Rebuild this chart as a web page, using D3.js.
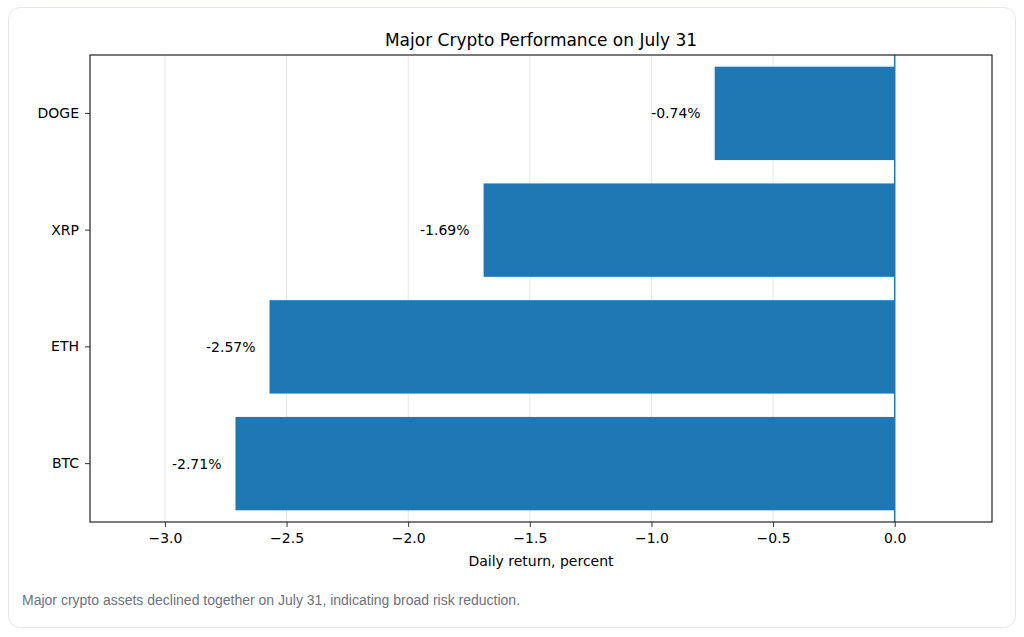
<!DOCTYPE html>
<html lang="en">
<meta charset="UTF-8">
<title>Major Crypto Performance on July 31</title>
<script src="https://d3js.org/d3.v7.min.js"></script>
<style>
body {margin:0; background:#fff;}
#card {position:absolute; left:8px; top:7px; width:1008px; height:621px; border:1px solid #e5e7eb; border-radius:12px; box-sizing:border-box;}
#caption {position:absolute; left:22px; top:592px; font-family:"Liberation Sans", Arial, sans-serif; font-size:14px; color:#6b7280;}
svg text {font-family:"DejaVu Sans", sans-serif;}
</style>
<body>
<div id="card"></div>
<svg id="chart" width="1024" height="637" style="position:absolute;left:0;top:0"></svg>
<div id="caption">Major crypto assets declined together on July 31, indicating broad risk reduction.</div>
<script>
// data, top bar first
var assets = ["DOGE", "XRP", "ETH", "BTC"];
var returns = [-0.74, -1.69, -2.57, -2.71];
var xTicks = [-3.0, -2.5, -2.0, -1.5, -1.0, -0.5, 0.0];

var margin = {top: 55, right: 32, bottom: 115, left: 90},
    width = 1024 - margin.left - margin.right,
    height = 637 - margin.top - margin.bottom;

var svg = d3.select("#chart")
  .append("g")
    .attr("transform", "translate(" + margin.left + "," + margin.top + ")");

var x = d3.scaleLinear().domain([-3.308, 0.4]).range([0, width]);
var y = d3.scaleBand().domain(assets).range([0, height]).paddingInner(0.2).paddingOuter(0.1);

// grid
svg.selectAll(".grid").data(xTicks).enter().append("line")
    .attr("x1", function(d) { return x(d); }).attr("x2", function(d) { return x(d); })
    .attr("y1", 0).attr("y2", height)
    .style("stroke", "#e6e6e6").style("stroke-width", 1);

// bars
svg.selectAll("rect.bar").data(assets).enter().append("rect")
    .attr("x", function(d, i) { return x(returns[i]); })
    .attr("y", function(d) { return y(d); })
    .attr("width", function(d, i) { return x(0) - x(returns[i]); })
    .attr("height", y.bandwidth())
    .style("fill", "#1f77b4");

// zero line
svg.append("line").attr("x1", x(0)).attr("x2", x(0)).attr("y1", 0).attr("y2", height)
    .style("stroke", "#1f77b4").style("stroke-width", 1.5);

// value labels
svg.selectAll(".lbl").data(assets).enter().append("text")
    .attr("x", function(d, i) { return x(returns[i]) - 14; })
    .attr("y", function(d) { return y(d) + y.bandwidth() / 2; })
    .attr("dy", "0.35em").attr("text-anchor", "end")
    .style("font-size", "14px").style("fill", "#000")
    .text(function(d, i) { return returns[i].toFixed(2) + "%"; });

// axes
var xAxis = svg.append("g").attr("transform", "translate(0," + height + ")")
    .call(d3.axisBottom(x).tickValues(xTicks).tickSize(5).tickPadding(6)
      .tickFormat(function(d) { return d3.format(".1f")(d).replace("-", "\u2212"); }));
var yAxis = svg.append("g").call(d3.axisLeft(y).tickSize(5).tickPadding(6));
[xAxis, yAxis].forEach(function(a) {
  a.select(".domain").remove();
  a.selectAll("text").style("font-size", "14px").style("fill", "#000");
  a.selectAll("line").style("stroke", "#333");
});

// frame
svg.append("rect").attr("width", width).attr("height", height)
    .style("fill", "none").style("stroke", "#222").style("stroke-width", 1.2);

svg.append("text").attr("x", width / 2).attr("y", -9).attr("text-anchor", "middle")
    .style("font-size", "17px").text("Major Crypto Performance on July 31");
svg.append("text").attr("x", width / 2).attr("y", height + 44).attr("text-anchor", "middle")
    .style("font-size", "14px").text("Daily return, percent");
</script>
</body>
</html>
